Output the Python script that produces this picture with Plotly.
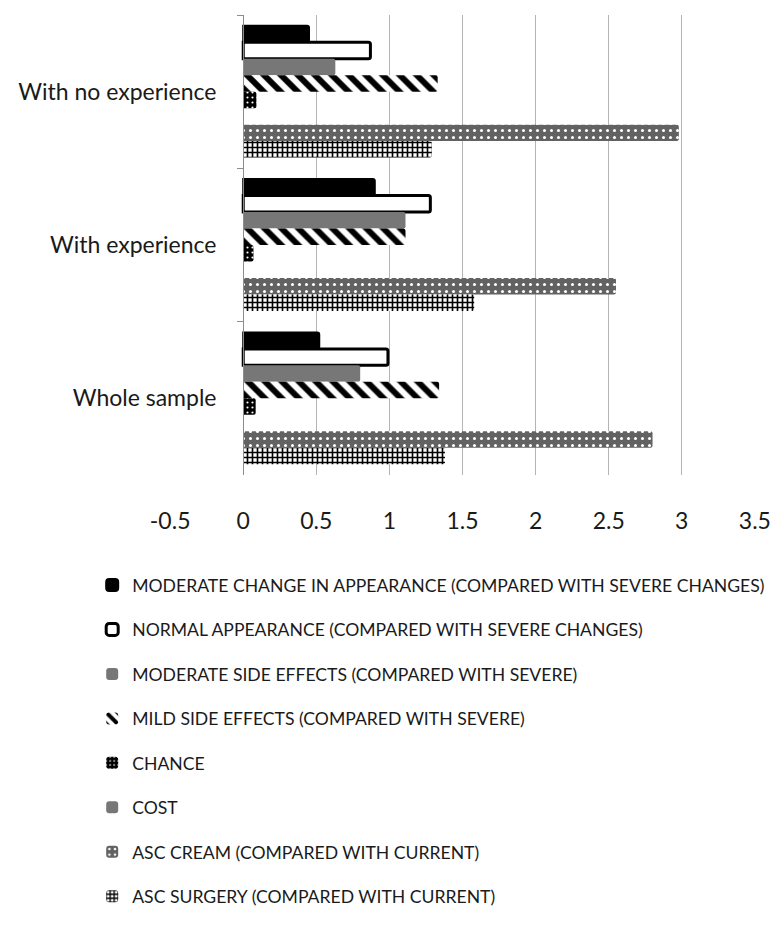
import plotly.graph_objects as go

categories = ["With no experience", "With experience", "Whole sample"]

series_names = [
    "MODERATE CHANGE IN APPEARANCE (COMPARED WITH SEVERE CHANGES)",
    "NORMAL APPEARANCE (COMPARED WITH SEVERE CHANGES)",
    "MODERATE SIDE EFFECTS (COMPARED WITH SEVERE)",
    "MILD SIDE EFFECTS (COMPARED WITH SEVERE)",
    "CHANCE",
    "COST",
    "ASC CREAM (COMPARED WITH CURRENT)",
    "ASC SURGERY (COMPARED WITH CURRENT)",
]

moderate_change = [0.45, 0.90, 0.52]
normal_appearance = [0.87, 1.28, 0.99]
moderate_side = [0.63, 1.11, 0.80]
mild_side = [1.33, 1.11, 1.34]
chance = [0.09, 0.07, 0.085]
cost = [0.0, 0.0, 0.0]
asc_cream = [2.98, 2.55, 2.80]
asc_surgery = [1.29, 1.58, 1.38]

x_ticks = [-0.5, 0, 0.5, 1, 1.5, 2, 2.5, 3, 3.5]
x_tick_labels = ["-0.5", "0", "0.5", "1", "1.5", "2", "2.5", "3", "3.5"]

values = [moderate_change, normal_appearance, moderate_side, mild_side,
          chance, cost, asc_cream, asc_surgery]

styles = [
    dict(color="black", line=dict(color="black", width=2)),
    dict(color="white", line=dict(color="black", width=3)),
    dict(color="#777777", line=dict(width=0)),
    dict(color="white", line=dict(width=0),
         pattern=dict(shape="\\", fgcolor="black", bgcolor="white", size=12,
                      solidity=0.5, fgopacity=1)),
    dict(color="black", line=dict(width=0),
         pattern=dict(shape=".", fgcolor="white", bgcolor="black", size=5,
                      solidity=0.15, fgopacity=1)),
    dict(color="#777777", line=dict(width=0)),
    dict(color="#666666", line=dict(width=0),
         pattern=dict(shape=".", fgcolor="white", bgcolor="#626262", size=7,
                      solidity=0.15, fgopacity=1)),
    dict(color="white", line=dict(width=0),
         pattern=dict(shape="+", fgcolor="black", bgcolor="white", size=5,
                      solidity=0.55, fgopacity=1)),
]

fig = go.Figure()
for i, (name, vals, st) in enumerate(zip(series_names, values, styles)):
    fig.add_trace(go.Bar(
        y=categories, x=vals, name=name, orientation="h",
        marker=st, legendgroup=f"g{i}", cliponaxis=False,
    ))

font_family = "Lato, 'Open Sans', sans-serif"

fig.update_layout(
    width=772, height=950,
    margin=dict(l=170, r=17, t=15, b=475, autoexpand=False),
    paper_bgcolor="white", plot_bgcolor="white",
    barmode="group", bargap=0.14, bargroupgap=0,
    barcornerradius=2,
    font=dict(family=font_family, color="#1a1a1a"),
    showlegend=True,
    legend=dict(
        x=-0.133, xanchor="left", y=-0.2, yanchor="top",
        orientation="v", traceorder="grouped", tracegroupgap=18.6,
        font=dict(size=17.6, family=font_family, color="#1a1a1a"),
        itemwidth=30, bgcolor="rgba(0,0,0,0)",
    ),
    xaxis=dict(
        range=[-0.501, 3.501], tickmode="array", tickvals=x_ticks, ticktext=x_tick_labels,
        showgrid=True, gridcolor="#b4b4b4", gridwidth=1,
        zeroline=False, showline=False, ticks="", automargin=False,
        tickfont=dict(size=23, family=font_family, color="#1a1a1a"),
        ticklabelstandoff=30,
    ),
    yaxis=dict(
        autorange="reversed", anchor="free", position=73.1 / 585, automargin=False,
        showline=True, linecolor="#8c8c8c", linewidth=1,
        ticks="outside", tickson="boundaries", ticklen=6, tickcolor="#8c8c8c",
        showgrid=False, zeroline=False,
        tickfont=dict(size=23, family=font_family, color="#1a1a1a"),
        ticklabelstandoff=22,
    ),
)

fig.write_html("out.html",
               config={"displayModeBar": False},
               post_script="document.body.style.margin='0';document.body.style.padding='0';")
